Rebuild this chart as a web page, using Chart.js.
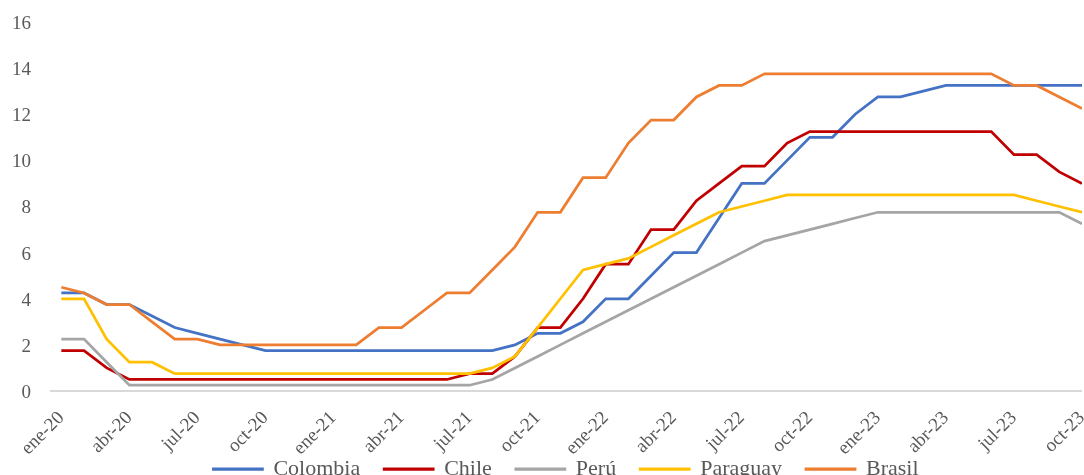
<!DOCTYPE html>
<html>
<head>
<meta charset="utf-8">
<script src="https://cdn.jsdelivr.net/npm/chart.js@4/dist/chart.umd.min.js"></script>
<style>
  html, body { margin: 0; padding: 0; background: #fff; overflow: hidden; }
  #wrap { position: relative; width: 1084px; height: 513px; }
</style>
</head>
<body>
<div id="wrap"><canvas id="tasas"></canvas></div>
<script>
var meses = ['ene-20', 'feb-20', 'mar-20', 'abr-20', 'may-20', 'jun-20', 'jul-20', 'ago-20', 'sep-20', 'oct-20', 'nov-20', 'dic-20',
             'ene-21', 'feb-21', 'mar-21', 'abr-21', 'may-21', 'jun-21', 'jul-21', 'ago-21', 'sep-21', 'oct-21', 'nov-21', 'dic-21',
             'ene-22', 'feb-22', 'mar-22', 'abr-22', 'may-22', 'jun-22', 'jul-22', 'ago-22', 'sep-22', 'oct-22', 'nov-22', 'dic-22',
             'ene-23', 'feb-23', 'mar-23', 'abr-23', 'may-23', 'jun-23', 'jul-23', 'ago-23', 'sep-23', 'oct-23'];

var colombia = [4.25, 4.25, 3.75, 3.75, 3.25, 2.75, 2.5, 2.25, 2.0, 1.75,
                1.75, 1.75, 1.75, 1.75, 1.75, 1.75, 1.75, 1.75, 1.75, 1.75,
                2.0, 2.5, 2.5, 3.0, 4.0, 4.0, 5.0, 6.0, 6.0, 7.5,
                9.0, 9.0, 10.0, 11.0, 11.0, 12.0, 12.75, 12.75, 13.0, 13.25,
                13.25, 13.25, 13.25, 13.25, 13.25, 13.25];
var chile = [1.75, 1.75, 1.0, 0.5, 0.5, 0.5, 0.5, 0.5, 0.5, 0.5,
             0.5, 0.5, 0.5, 0.5, 0.5, 0.5, 0.5, 0.5, 0.75, 0.75,
             1.5, 2.75, 2.75, 4.0, 5.5, 5.5, 7.0, 7.0, 8.25, 9.0,
             9.75, 9.75, 10.75, 11.25, 11.25, 11.25, 11.25, 11.25, 11.25, 11.25,
             11.25, 11.25, 10.25, 10.25, 9.5, 9.0];
var peru = [2.25, 2.25, 1.25, 0.25, 0.25, 0.25, 0.25, 0.25, 0.25, 0.25,
            0.25, 0.25, 0.25, 0.25, 0.25, 0.25, 0.25, 0.25, 0.25, 0.5,
            1.0, 1.5, 2.0, 2.5, 3.0, 3.5, 4.0, 4.5, 5.0, 5.5,
            6.0, 6.5, 6.75, 7.0, 7.25, 7.5, 7.75, 7.75, 7.75, 7.75,
            7.75, 7.75, 7.75, 7.75, 7.75, 7.25];
var paraguay = [4.0, 4.0, 2.25, 1.25, 1.25, 0.75, 0.75, 0.75, 0.75, 0.75,
                0.75, 0.75, 0.75, 0.75, 0.75, 0.75, 0.75, 0.75, 0.75, 1.0,
                1.5, 2.75, 4.0, 5.25, 5.5, 5.75, 6.25, 6.75, 7.25, 7.75,
                8.0, 8.25, 8.5, 8.5, 8.5, 8.5, 8.5, 8.5, 8.5, 8.5,
                8.5, 8.5, 8.5, 8.25, 8.0, 7.75];
var brasil = [4.5, 4.25, 3.75, 3.75, 3.0, 2.25, 2.25, 2.0, 2.0, 2.0,
              2.0, 2.0, 2.0, 2.0, 2.75, 2.75, 3.5, 4.25, 4.25, 5.25,
              6.25, 7.75, 7.75, 9.25, 9.25, 10.75, 11.75, 11.75, 12.75, 13.25,
              13.25, 13.75, 13.75, 13.75, 13.75, 13.75, 13.75, 13.75, 13.75, 13.75,
              13.75, 13.75, 13.25, 13.25, 12.75, 12.25];

var paises = ['Colombia', 'Chile', 'Perú', 'Paraguay', 'Brasil'];
var colores = ['#4472C4', '#C00000', '#A5A5A5', '#FFC000', '#ED7D31'];
var series = [colombia, chile, peru, paraguay, brasil];

var fuente = "'Liberation Serif', 'Times New Roman', serif";
var gris = '#595959';

// puntos {x: indice del mes, y: tasa}
function puntos(valores) {
    return valores.map(function (v, i) { return { x: i, y: v }; });
}

var datasets = series.map(function (s, k) {
    return {
        label: paises[k],
        data: puntos(s),
        borderColor: colores[k],
        backgroundColor: colores[k],
        borderWidth: 2.75,
        pointRadius: 0,
        tension: 0,
        fill: false,
        order: series.length - k   // las ultimas series quedan encima, como en Excel
    };
});

// la leyenda va pegada a las etiquetas del eje x (como en el original)
var subirLeyenda = {
    id: 'subirLeyenda',
    afterLayout: function (chart) {
        chart.legend.top -= 23;
        chart.legend.bottom -= 23;
    }
};

new Chart(document.getElementById('tasas'), {
    type: 'line',
    data: { datasets: datasets },
    plugins: [subirLeyenda],
    options: {
        responsive: true,
        maintainAspectRatio: false,
        animation: false,
        layout: { padding: { left: 12, right: 2, top: 22, bottom: 0 } },
        plugins: {
            tooltip: { enabled: false },
            legend: {
                position: 'bottom',
                fullSize: false,
                labels: {
                    boxWidth: 49,
                    boxHeight: 0.5,
                    padding: 24,
                    color: gris,
                    font: { family: fuente, size: 22 },
                    sort: function (a, b) { return a.datasetIndex - b.datasetIndex; }
                }
            }
        },
        scales: {
            x: {
                type: 'linear',
                min: -0.5,
                max: meses.length - 1,
                grid: { display: false },
                border: { display: false },
                afterBuildTicks: function (axis) {
                    axis.ticks = meses.map(function (m, i) { return { value: i }; })
                                      .filter(function (t) { return t.value % 3 === 0; });
                },
                afterFit: function (axis) {
                    // las etiquetas giradas no empujan el area del grafico
                    axis.paddingLeft = 0;
                    axis.paddingRight = 0;
                    axis.height = 66;
                },
                ticks: {
                    autoSkip: false,
                    minRotation: 45,
                    maxRotation: 45,
                    padding: 8,
                    color: gris,
                    font: { family: fuente, size: 19 },
                    callback: function (v) { return meses[v]; }
                }
            },
            y: {
                min: 0,
                max: 16,
                border: { display: false },
                grid: {
                    drawTicks: false,
                    lineWidth: 2,
                    color: function (c) { return c.tick && c.tick.value === 0 ? '#D9D9D9' : 'rgba(0,0,0,0)'; }
                },
                afterFit: function (axis) {
                    axis.width = 38;
                    axis.paddingTop = 0;
                    axis.paddingBottom = 0;
                },
                ticks: {
                    stepSize: 2,
                    padding: 19,
                    labelOffset: 2,
                    color: gris,
                    font: { family: fuente, size: 19 }
                }
            }
        }
    }
});
</script>
</body>
</html>
